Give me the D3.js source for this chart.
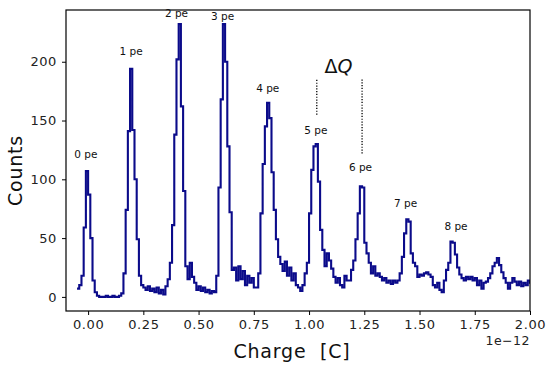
<!DOCTYPE html>
<html>
<head>
<meta charset="utf-8">
<script src="https://cdn.jsdelivr.net/npm/d3@7"></script>
<style>
  body { margin: 0; background: #fff; }
  text { font-family: "DejaVu Sans", sans-serif; }
</style>
</head>
<body>
<svg id="chart" width="550" height="365"></svg>
<script>
// histogram of charge (units of 1e-12 C), bins of 0.01 starting at -0.05
const binStart = -0.05, binWidth = 0.01;
const counts = [
  7, 10, 18, 59, 107, 87, 50, 14, 4, 1,
  0, 0, 0, 1, 0, 0, 1, 0, 0, 1,
  3, 20, 74, 141, 194, 142, 100, 49, 18, 10,
  8, 6, 9, 5, 7, 4, 8, 3, 6, 2,
  9, 15, 29, 61, 138, 202, 232, 162, 90, 26,
  15, 29, 17, 12, 6, 9, 5, 8, 4, 6,
  3, 5, 4, 18, 93, 168, 232, 200, 128, 72,
  23, 25, 14, 26, 15, 22, 10, 18, 12, 16,
  8, 8, 20, 71, 113, 145, 165, 152, 106, 74,
  49, 34, 28, 22, 30, 18, 25, 14, 20, 10,
  8, 5, 10, 20, 29, 71, 108, 128, 130, 98,
  57, 40, 26, 37, 31, 24, 17, 12, 16, 10,
  8, 18, 14, 14, 23, 31, 49, 71, 94, 93,
  46, 37, 29, 20, 26, 18, 20, 17, 14, 16,
  12, 14, 11, 14, 12, 14, 20, 34, 54, 66,
  64, 37, 29, 26, 17, 19, 18, 20, 21, 19,
  17, 10, 8, 12, 6, 4, 14, 23, 29, 47,
  46, 36, 25, 19, 16, 14, 17, 15, 17, 14,
  16, 10, 14, 7, 12, 13, 16, 20, 26, 29,
  33, 27, 21, 16, 12, 7, 12, 16, 13, 10,
  13, 9, 12, 10, 14, 12
];

const peakNames = ["0 pe", "1 pe", "2 pe", "3 pe", "4 pe", "5 pe", "6 pe", "7 pe", "8 pe"];
const peakLabelX = [-0.01, 0.195, 0.40, 0.609, 0.813, 1.031, 1.233, 1.437, 1.665];
const peakLabelY = [121, 209, 241, 239, 177, 142, 110, 80, 60];

const xTicks = [0, 0.25, 0.5, 0.75, 1.0, 1.25, 1.5, 1.75, 2.0];
const yTicks = [0, 50, 100, 150, 200];

// delta Q markers
const dqX = [1.035, 1.24];
const dqBottom = [155, 122];
const dqTop = 185;

const svg = d3.select("#chart");
const margin = {top: 10, right: 20, bottom: 54, left: 66};
const width = 550 - margin.left - margin.right,
      height = 365 - margin.top - margin.bottom;

const x = d3.scaleLinear().domain([-0.1, 2.0]).range([0, width]);
const y = d3.scaleLinear().domain([-12, 244]).range([height, 0]);

const g = svg.append("g").attr("transform", "translate(" + margin.left + "," + margin.top + ")");

g.append("clipPath").attr("id", "clip")
  .append("rect").attr("width", width).attr("height", height);

// step outline
let pts = counts.map((c, i) => [binStart + i * binWidth, c]);
pts.push([binStart + counts.length * binWidth, counts[counts.length - 1]]);

const line = d3.line()
  .x(d => x(d[0]))
  .y(d => y(d[1]))
  .curve(d3.curveStepAfter);

g.append("path")
  .datum(pts)
  .attr("clip-path", "url(#clip)")
  .attr("d", line)
  .attr("fill", "none")
  .attr("stroke", "#0b0b8a")
  .attr("stroke-width", 2.1)
  .attr("stroke-linejoin", "miter");

// axes
const xAxis = g.append("g")
  .attr("transform", "translate(0," + height + ")")
  .call(d3.axisBottom(x).tickValues(xTicks).tickFormat(d3.format(".2f")).tickSizeOuter(0).tickSize(4).tickPadding(5));
const yAxis = g.append("g")
  .call(d3.axisLeft(y).tickValues(yTicks).tickSizeOuter(0).tickSize(4).tickPadding(5));

[xAxis, yAxis].forEach(a => {
  a.select(".domain").remove();
  a.selectAll("text")
    .attr("font-size", 13)
    .attr("letter-spacing", "0.6px")
    .attr("fill", "#222")
    .attr("font-family", "Liberation Sans, Arial, sans-serif");
  a.selectAll("line").attr("stroke", "#000");
});

g.append("rect")
  .attr("width", width).attr("height", height)
  .attr("fill", "none").attr("stroke", "#000").attr("stroke-width", 1.2);

// peak labels
g.selectAll(".pk")
  .data(peakNames)
  .enter().append("text")
  .attr("x", (d, i) => x(peakLabelX[i]))
  .attr("y", (d, i) => y(peakLabelY[i]))
  .attr("dy", "0.35em")
  .attr("text-anchor", "middle")
  .attr("font-size", 10.5)
  .attr("fill", "#111")
  .text(d => d);

// delta Q dotted lines
g.selectAll(".dq")
  .data(dqX)
  .enter().append("line")
  .attr("x1", d => x(d)).attr("x2", d => x(d))
  .attr("y1", (d, i) => y(dqBottom[i]))
  .attr("y2", y(dqTop))
  .attr("stroke", "#000")
  .attr("stroke-width", 1.3)
  .attr("stroke-dasharray", "1.2,1.6");

const dq = g.append("text")
  .attr("x", x((dqX[0] + dqX[1]) / 2) - 1)
  .attr("y", y(dqTop) - 6)
  .attr("text-anchor", "middle")
  .attr("font-size", 19)
  .attr("fill", "#111");
dq.append("tspan").text("Δ");
dq.append("tspan").attr("font-style", "italic").text("Q");

// labels
g.append("text")
  .attr("x", width / 2 - 6)
  .attr("y", height + 47)
  .attr("text-anchor", "middle")
  .attr("font-size", 19)
  .attr("font-family", "Liberation Sans, Arial, sans-serif")
  .attr("fill", "#111")
  .attr("letter-spacing", "0.8px")
  .text("Charge\u00a0\u00a0[C]");

g.append("text")
  .attr("transform", "translate(-44," + (height / 2 + 10) + ") rotate(-90)")
  .attr("text-anchor", "middle")
  .attr("font-size", 19)
  .attr("font-family", "Liberation Sans, Arial, sans-serif")
  .attr("fill", "#111")
  .attr("letter-spacing", "0.8px")
  .text("Counts");

g.append("text")
  .attr("x", width)
  .attr("y", height + 34)
  .attr("text-anchor", "end")
  .attr("font-size", 12.5)
  .attr("font-family", "Liberation Sans, Arial, sans-serif")
  .attr("letter-spacing", "0.5px")
  .attr("fill", "#222")
  .text("1e\u221212");
</script>
</body>
</html>
